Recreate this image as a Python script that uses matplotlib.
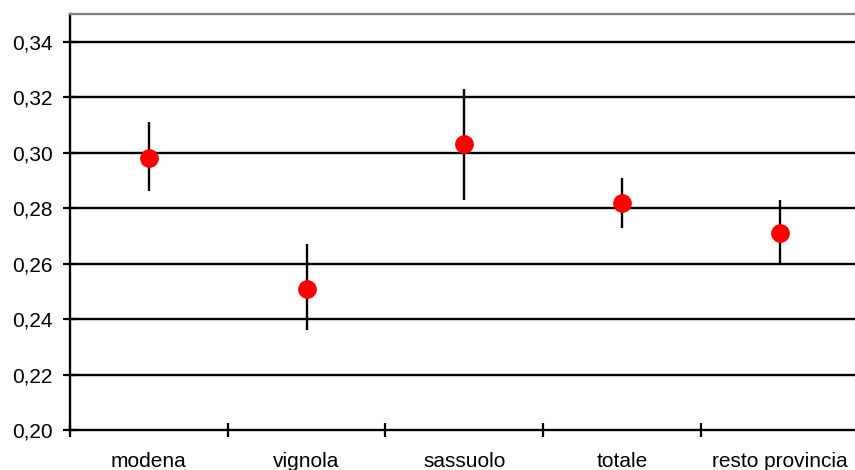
import matplotlib.pyplot as plt
from matplotlib.ticker import FixedLocator, NullFormatter

plt.rcParams['font.family'] = ['Liberation Sans', 'DejaVu Sans']

# data
categorie = ['modena', 'vignola', 'sassuolo', 'totale', 'resto provincia']
valori = [0.298, 0.251, 0.303, 0.282, 0.271]
err_basso = [0.286, 0.236, 0.283, 0.273, 0.260]
err_alto = [0.311, 0.267, 0.323, 0.291, 0.283]
y_ticks = [0.20, 0.22, 0.24, 0.26, 0.28, 0.30, 0.32, 0.34]

fig = plt.figure(figsize=(8.55, 4.7), dpi=100)
ax = fig.add_axes([70 / 855, 1 - 430 / 470, 788.5 / 855, 416 / 470])

x = [i + 0.5 for i in range(len(categorie))]

# gridlines
for y in y_ticks[1:]:
    ax.axhline(y, color='black', lw=1.7, zorder=1)

# error bars (no caps) and points
ax.vlines(x, err_basso, err_alto, color='black', lw=1.7, zorder=2)
ax.plot(x, valori, 'o', color='#ff0000', markersize=13.5, markeredgewidth=0, zorder=3)

ax.set_xlim(0, 5)
ax.set_ylim(0.20, 0.35)

ax.xaxis.set_major_locator(FixedLocator(range(6)))
ax.xaxis.set_major_formatter(NullFormatter())
ax.xaxis.set_minor_locator(FixedLocator(x))
ax.set_xticklabels(categorie, minor=True)
ax.tick_params(axis='x', which='major', direction='inout', length=10, width=1.6, color='black')
ax.tick_params(axis='x', which='minor', length=0, pad=15.5, labelsize=15)

ax.set_yticks(y_ticks)
ax.set_yticklabels([f'{v:.2f}'.replace('.', ',') for v in y_ticks])
ax.tick_params(axis='y', direction='inout', length=10, width=1.6, color='black', labelsize=15, pad=7.5)

for s in ['left', 'bottom']:
    ax.spines[s].set_color('black')
    ax.spines[s].set_linewidth(1.7)
ax.spines['top'].set_color('#808080')
ax.spines['top'].set_linewidth(1.7)
ax.spines['right'].set_visible(False)
for s in ax.spines.values():
    s.set_zorder(4)

fig.savefig('out.png', dpi=100)
